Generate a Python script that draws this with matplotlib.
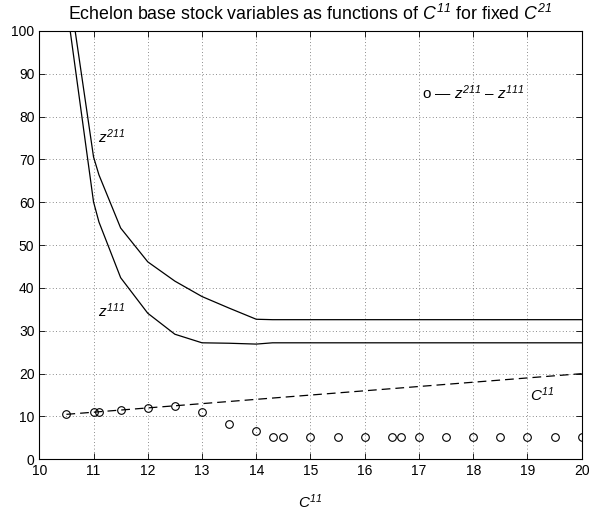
import matplotlib
matplotlib.use("Agg")
import matplotlib.pyplot as plt

plt.rcParams['font.family'] = ['Liberation Sans', 'DejaVu Sans']
plt.rcParams['mathtext.fontset'] = 'custom'
plt.rcParams['mathtext.it'] = 'Liberation Sans:italic'
plt.rcParams['mathtext.rm'] = 'Liberation Sans'
plt.rcParams['mathtext.sf'] = 'Liberation Sans:italic'

# C^11 grid of evaluation points
c11 = [10.5, 11.0, 11.1, 11.5, 12.0, 12.5, 13.0, 13.5, 14.0, 14.3, 14.5, 15.0,
       15.5, 16.0, 16.5, 16.67, 17.0, 17.5, 18.0, 18.5, 19.0, 19.5, 20.0]
z211 = [114.0, 70.6, 66.4, 54.0, 46.1, 41.6, 38.0, 35.3, 32.7, 32.6, 32.6, 32.6,
        32.6, 32.6, 32.6, 32.6, 32.6, 32.6, 32.6, 32.6, 32.6, 32.6, 32.6]
z111 = [106.5, 60.1, 55.4, 42.4, 34.1, 29.2, 27.2, 27.1, 26.9, 27.2, 27.2, 27.2,
        27.2, 27.2, 27.2, 27.2, 27.2, 27.2, 27.2, 27.2, 27.2, 27.2, 27.2]
diff = [10.5, 11.1, 11.1, 11.5, 12.05, 12.5, 11.0, 8.2, 6.7, 5.3, 5.3, 5.3,
        5.3, 5.3, 5.3, 5.3, 5.3, 5.3, 5.3, 5.3, 5.3, 5.3, 5.3]
c11_line = [10.5, 20.0]

xticks = list(range(10, 21))
yticks = list(range(0, 101, 10))

fig = plt.figure(figsize=(5.89, 5.14), dpi=100)
ax = fig.add_axes([0.0667, 0.1064, 0.9209, 0.8333])

ax.plot(c11, z211, color='black', lw=0.9)
ax.plot(c11, z111, color='black', lw=0.9)
ax.plot(c11_line, c11_line, color='black', lw=0.9, dashes=(7, 4))
ax.plot(c11, diff, linestyle='none', marker='o', markersize=5.5,
        markerfacecolor='none', markeredgecolor='black', markeredgewidth=0.8)

ax.set_xlim(10, 20)
ax.set_ylim(0, 100)
ax.set_xticks(xticks)
ax.set_yticks(yticks)
ax.tick_params(direction='in', top=True, right=True, labelsize=10, length=4, width=0.6)
ax.grid(True, linestyle=(0, (1, 3)), color='black', lw=0.6, alpha=0.6)
for s in ax.spines.values():
    s.set_linewidth(0.8)

ax.text(11.08, 75.3, r'$z^{\mathsf{211}}$', fontsize=11, va='center', ha='left')
ax.text(11.08, 34.8, r'$z^{\mathsf{111}}$', fontsize=11, va='center', ha='left')
ax.text(19.05, 15.0, r'$C^{\mathsf{11}}$', fontsize=11, va='center', ha='left')
ax.text(17.05, 85.5, r'o — $z^{\mathsf{211}}$ – $z^{\mathsf{111}}$', fontsize=11,
        va='center', ha='left')

ax.set_title(r'Echelon base stock variables as functions of $C^{\mathsf{11}}$ for fixed $C^{\mathsf{21}}$',
             fontsize=12.8, pad=8)
ax.set_xlabel(r'$C^{\mathsf{11}}$', fontsize=11, labelpad=10)

fig.savefig('out.png', dpi=100)
